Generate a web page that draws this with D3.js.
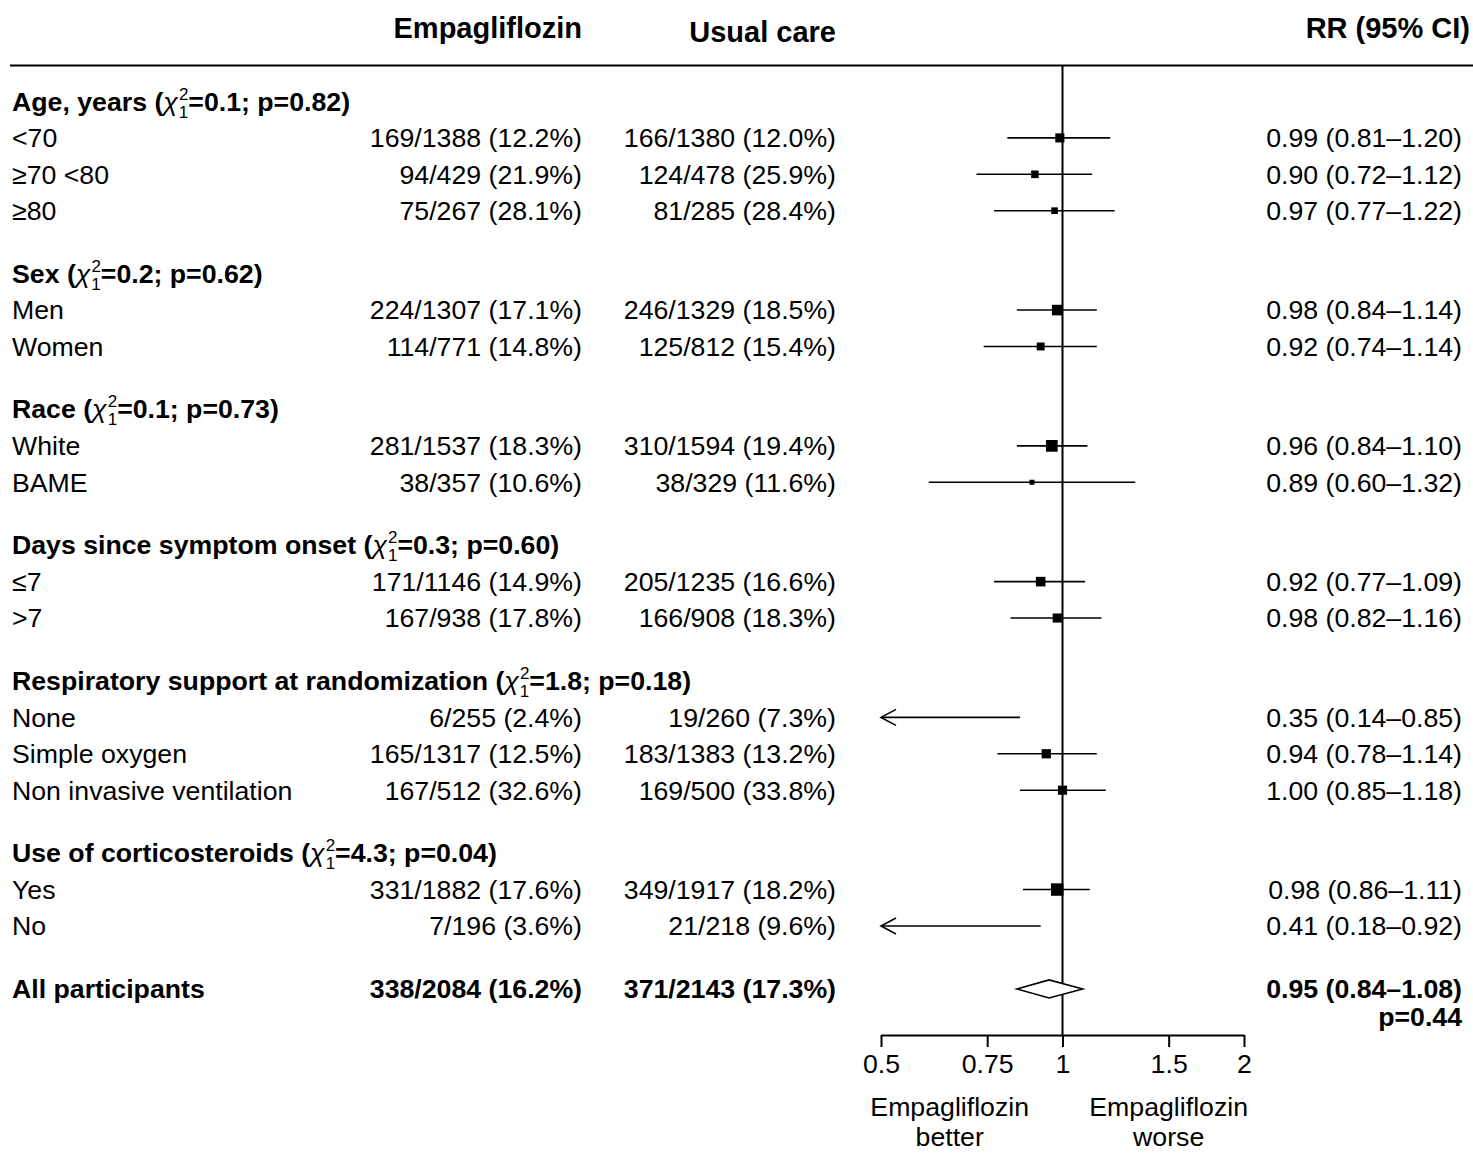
<!DOCTYPE html>
<html lang="en">
<head>
  <meta charset="UTF-8">
  <title>Empagliflozin subgroup forest plot</title>
  <script src="https://d3js.org/d3.v7.min.js"></script>
  <style>
    body { margin: 0; background: #fff; }
    svg { display: block; font-family: "Liberation Sans", Arial, sans-serif; }
  </style>
</head>
<body>
  <svg id="chart" width="1473" height="1153"></svg>
  <script>
    // Subgroup headings with heterogeneity test
    const groupTitles = ["Age, years", "Sex", "Race", "Days since symptom onset",
                         "Respiratory support at randomization", "Use of corticosteroids"];
    const groupChi = ["0.1", "0.2", "0.1", "0.3", "1.8", "4.3"];
    const groupP = ["0.82", "0.62", "0.73", "0.60", "0.18", "0.04"];

    // Subgroup rows
    const rowLabels = ["<70", "≥70 <80", "≥80", "Men", "Women", "White", "BAME", "≤7", ">7",
                       "None", "Simple oxygen", "Non invasive ventilation", "Yes", "No"];
    const rowGroup = [0, 0, 0, 1, 1, 2, 2, 3, 3, 4, 4, 4, 5, 5];
    const empEvents = [169, 94, 75, 224, 114, 281, 38, 171, 167, 6, 165, 167, 331, 7];
    const empTotal = [1388, 429, 267, 1307, 771, 1537, 357, 1146, 938, 255, 1317, 512, 1882, 196];
    const ucEvents = [166, 124, 81, 246, 125, 310, 38, 205, 166, 19, 183, 169, 349, 21];
    const ucTotal = [1380, 478, 285, 1329, 812, 1594, 329, 1235, 908, 260, 1383, 500, 1917, 218];
    const rr = [0.99, 0.90, 0.97, 0.98, 0.92, 0.96, 0.89, 0.92, 0.98, 0.35, 0.94, 1.00, 0.98, 0.41];
    const rrLo = [0.81, 0.72, 0.77, 0.84, 0.74, 0.84, 0.60, 0.77, 0.82, 0.14, 0.78, 0.85, 0.86, 0.18];
    const rrHi = [1.20, 1.12, 1.22, 1.14, 1.14, 1.10, 1.32, 1.09, 1.16, 0.85, 1.14, 1.18, 1.11, 0.92];

    // Overall
    const allEmp = [338, 2084];
    const allUc = [371, 2143];
    const allRR = [0.95, 0.84, 1.08];
    const allP = "0.44";

    const tickVals = [0.5, 0.75, 1, 1.5, 2];

    const svg = d3.select("#chart");
    const fs = 26.7, hfs = 29;
    const colLabel = 12, colEmp = 582, colUc = 836, colRR = 1462;

    const x = d3.scaleLog().base(2).domain([0.5, 2]).range([881, 1244]);

    // vertical position in row units, with a gap between groups
    const gapUnits = 1.73;
    const units = [];
    const headUnits = [];
    let u = 0;
    groupTitles.forEach((t, gi) => {
      if (gi > 0) u += gapUnits;
      headUnits.push(u);
      rowGroup.forEach((g, i) => { if (g === gi) { u += 1; units[i] = u; } });
    });
    const allUnit = u + gapUnits;
    const y = d3.scaleLinear().domain([0, 1]).range([101.5, 137.9]);

    const pct = (e, n) => `${e}/${n} (${(e / n * 100).toFixed(1)}%)`;
    const ci = (a, b, c) => `${a.toFixed(2)} (${b.toFixed(2)}–${c.toFixed(2)})`;

    // Column headers
    svg.append("text").attr("x", colEmp).attr("y", 28).attr("dy", "0.35em")
      .attr("text-anchor", "end").attr("font-weight", "bold").attr("font-size", hfs).text("Empagliflozin");
    svg.append("text").attr("x", colUc).attr("y", 32).attr("dy", "0.35em")
      .attr("text-anchor", "end").attr("font-weight", "bold").attr("font-size", hfs).text("Usual care");
    svg.append("text").attr("x", 1470).attr("y", 28).attr("dy", "0.35em")
      .attr("text-anchor", "end").attr("font-weight", "bold").attr("font-size", hfs).text("RR (95% CI)");

    svg.append("line").attr("x1", 10).attr("x2", 1473).attr("y1", 65.5).attr("y2", 65.5)
      .attr("stroke", "#000").attr("stroke-width", 2);

    // Group headers
    groupTitles.forEach((t, gi) => {
      const yy = y(headUnits[gi]) + 9;
      const txt = svg.append("text").attr("x", colLabel).attr("y", yy)
        .attr("font-size", fs).attr("font-weight", "bold");
      txt.append("tspan").text(`${t} (`);
      txt.append("tspan").attr("font-weight", "normal").attr("font-style", "italic").text("χ");
      txt.append("tspan").attr("font-size", 17).attr("font-weight", "normal").attr("dx", 1).attr("dy", -11).text("2");
      txt.append("tspan").attr("font-size", 17).attr("font-weight", "normal").attr("dx", -9.5).attr("dy", 18).text("1");
      txt.append("tspan").attr("dy", -7).text(`=${groupChi[gi]}; p=${groupP[gi]})`);
    });

    // Subgroup rows text
    const rows = svg.append("g").attr("font-size", fs);
    rowLabels.forEach((lab, i) => {
      const yy = y(units[i]);
      rows.append("text").attr("x", colLabel).attr("y", yy).attr("dy", "0.35em").text(lab);
      rows.append("text").attr("x", colEmp).attr("y", yy).attr("dy", "0.35em")
        .attr("text-anchor", "end").text(pct(empEvents[i], empTotal[i]));
      rows.append("text").attr("x", colUc).attr("y", yy).attr("dy", "0.35em")
        .attr("text-anchor", "end").text(pct(ucEvents[i], ucTotal[i]));
      rows.append("text").attr("x", colRR).attr("y", yy).attr("dy", "0.35em")
        .attr("text-anchor", "end").text(ci(rr[i], rrLo[i], rrHi[i]));
    });

    // Overall row
    const ya = y(allUnit);
    const all = svg.append("g").attr("font-size", fs).attr("font-weight", "bold");
    all.append("text").attr("x", colLabel).attr("y", ya).attr("dy", "0.35em").text("All participants");
    all.append("text").attr("x", colEmp).attr("y", ya).attr("dy", "0.35em")
      .attr("text-anchor", "end").text(pct(allEmp[0], allEmp[1]));
    all.append("text").attr("x", colUc).attr("y", ya).attr("dy", "0.35em")
      .attr("text-anchor", "end").text(pct(allUc[0], allUc[1]));
    all.append("text").attr("x", colRR).attr("y", ya).attr("dy", "0.35em")
      .attr("text-anchor", "end").text(ci(allRR[0], allRR[1], allRR[2]));
    all.append("text").attr("x", colRR).attr("y", ya + 28).attr("dy", "0.35em")
      .attr("text-anchor", "end").text(`p=${allP}`);

    // Forest plot
    const axisY = 1035;
    svg.append("line").attr("x1", x(1)).attr("x2", x(1)).attr("y1", 65).attr("y2", axisY)
      .attr("stroke", "#000").attr("stroke-width", 2);

    // box side grows with sqrt of total events
    const boxSize = d3.scalePow().exponent(0.5).domain([76, 591]).range([5, 11.7]);
    const [xmin, xmax] = x.domain();

    rowLabels.forEach((lab, i) => {
      const yy = y(units[i]);
      const lo = Math.max(rrLo[i], xmin), hi = Math.min(rrHi[i], xmax);
      svg.append("line").attr("x1", x(lo)).attr("x2", x(hi)).attr("y1", yy).attr("y2", yy)
        .attr("stroke", "#000").attr("stroke-width", 1.6);
      if (rrLo[i] < xmin) {
        svg.append("path")
          .attr("d", `M${x(xmin) + 15},${yy - 8}L${x(xmin)},${yy}L${x(xmin) + 15},${yy + 8}`)
          .attr("fill", "none").attr("stroke", "#000").attr("stroke-width", 1.6);
      }
      if (rr[i] >= xmin) {
        const s = boxSize(empEvents[i] + ucEvents[i]);
        svg.append("rect").attr("x", x(rr[i]) - s / 2).attr("y", yy - s / 2)
          .attr("width", s).attr("height", s).attr("fill", "#000");
      }
    });

    // Overall diamond
    svg.append("path")
      .attr("d", `M${x(allRR[1])},${ya}L${x(allRR[0])},${ya - 9}L${x(allRR[2])},${ya}L${x(allRR[0])},${ya + 9}Z`)
      .attr("fill", "#fff").attr("stroke", "#000").attr("stroke-width", 1.6);

    // Axis
    const ax = svg.append("g").attr("transform", `translate(0,${axisY})`)
      .call(d3.axisBottom(x).tickValues(tickVals).tickFormat(d3.format("")).tickSize(12).tickSizeOuter(0).tickPadding(7));
    ax.select(".domain").attr("stroke-width", 2);
    ax.selectAll(".tick line").attr("stroke-width", 2);
    ax.selectAll(".tick text").attr("font-size", fs).attr("font-family", "Liberation Sans, Arial, sans-serif").attr("fill", "#000");

    // Direction labels
    const dir = svg.append("g").attr("font-size", fs).attr("text-anchor", "middle");
    dir.append("text").attr("x", x(0.65)).attr("y", 1107).attr("dy", "0.35em").text("Empagliflozin");
    dir.append("text").attr("x", x(0.65)).attr("y", 1137).attr("dy", "0.35em").text("better");
    dir.append("text").attr("x", x(1.5)).attr("y", 1107).attr("dy", "0.35em").text("Empagliflozin");
    dir.append("text").attr("x", x(1.5)).attr("y", 1137).attr("dy", "0.35em").text("worse");
  </script>
</body>
</html>
